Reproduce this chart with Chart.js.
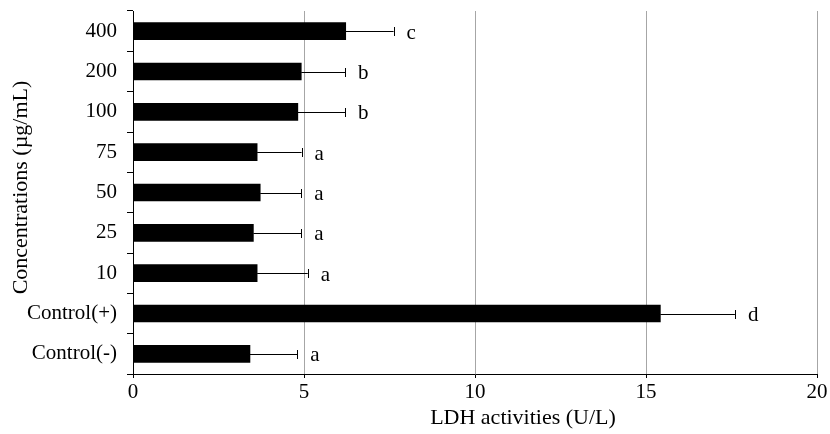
<!DOCTYPE html>
<html>
<head>
<meta charset="utf-8">
<script src="https://cdn.jsdelivr.net/npm/chart.js@4.4.1/dist/chart.umd.min.js"></script>
<style>
  html, body { margin: 0; padding: 0; background: #ffffff; }
  #wrap { width: 830px; height: 434px; position: relative; }
</style>
</head>
<body>
<div id="wrap"><canvas id="c" width="830" height="434"></canvas></div>
<script>
const categories = ['400', '200', '100', '75', '50', '25', '10', 'Control(+)', 'Control(-)'];
const ldhValues = [6.22, 4.92, 4.82, 3.63, 3.72, 3.52, 3.63, 15.42, 3.42];
const ldhErrors = [1.40, 1.28, 1.38, 1.30, 1.20, 1.40, 1.48, 2.18, 1.38];
const groupLetters = ['c', 'b', 'b', 'a', 'a', 'a', 'a', 'd', 'a'];
const xTicks = [0, 5, 10, 15, 20];
const xTitle = 'LDH activities (U/L)';
const yTitle = 'Concentrations (\u00b5g/mL)';

const SERIF = '"Liberation Serif", "Times New Roman", serif';

const errorBarPlugin = {
  id: 'errorBars',
  afterDatasetsDraw(chart) {
    const ctx = chart.ctx;
    const xs = chart.scales.x;
    const meta = chart.getDatasetMeta(0);
    ctx.save();
    ctx.strokeStyle = '#000000';
    ctx.lineWidth = 1;
    ctx.fillStyle = '#000000';
    ctx.font = '21px ' + SERIF;
    ctx.textAlign = 'left';
    ctx.textBaseline = 'middle';
    meta.data.forEach((bar, i) => {
      const y = Math.round(bar.y) + 0.5;
      const x0 = xs.getPixelForValue(ldhValues[i]);
      const x1 = xs.getPixelForValue(ldhValues[i] + ldhErrors[i]);
      ctx.beginPath();
      ctx.moveTo(x0, y);
      ctx.lineTo(x1, y);
      ctx.moveTo(Math.round(x1) + 0.5, y - 4.5);
      ctx.lineTo(Math.round(x1) + 0.5, y + 4.5);
      ctx.stroke();
      ctx.fillText(groupLetters[i], x1 + 13, bar.y + 2);
    });
    ctx.restore();
  }
};

const titlePlugin = {
  id: 'axisTitles',
  afterDraw(chart) {
    const ctx = chart.ctx;
    const area = chart.chartArea;
    ctx.save();
    ctx.fillStyle = '#000000';
    ctx.font = '22px ' + SERIF;
    ctx.textAlign = 'center';
    ctx.textBaseline = 'alphabetic';
    ctx.fillText(xTitle, (area.left + area.right) / 2 + 48, 424);
    ctx.translate(27, (area.top + area.bottom) / 2 - 5);
    ctx.rotate(-Math.PI / 2);
    ctx.fillText(yTitle, 0, 0);
    ctx.restore();
  }
};

new Chart(document.getElementById('c'), {
  type: 'bar',
  data: {
    labels: categories,
    datasets: [{
      data: ldhValues,
      backgroundColor: '#000000',
      borderWidth: 0,
      barThickness: 17
    }]
  },
  options: {
    indexAxis: 'y',
    responsive: false,
    animation: false,
    devicePixelRatio: 1,
    layout: { padding: { left: 0, right: 13, top: 11, bottom: 0 } },
    plugins: {
      legend: { display: false },
      tooltip: { enabled: false }
    },
    scales: {
      x: {
        type: 'linear',
        min: 0,
        max: 20,
        afterBuildTicks(scale) { scale.ticks = xTicks.map(v => ({ value: v })); },
        afterFit(scale) { scale.height = 60; },
        border: { display: true, color: '#000000', width: 1 },
        grid: {
          display: true,
          drawOnChartArea: true,
          drawTicks: true,
          tickLength: 4,
          tickColor: '#000000',
          color: (c) => (c.tick && c.tick.value === 0) ? 'rgba(0,0,0,0)' : '#a6a6a6',
          lineWidth: 1
        },
        ticks: {
          color: '#000000',
          font: { family: SERIF, size: 21 },
          padding: 2,
          maxRotation: 0
        }
      },
      y: {
        type: 'category',
        afterFit(scale) { scale.width = 133; scale.paddingTop = 0; },
        border: { display: true, color: '#000000', width: 1 },
        grid: {
          display: true,
          offset: true,
          drawOnChartArea: false,
          drawTicks: true,
          tickLength: 6,
          tickColor: '#000000',
          lineWidth: 1
        },
        ticks: {
          color: '#000000',
          font: { family: SERIF, size: 21 },
          padding: 10
        }
      }
    }
  },
  plugins: [errorBarPlugin, titlePlugin]
});
</script>
</body>
</html>
